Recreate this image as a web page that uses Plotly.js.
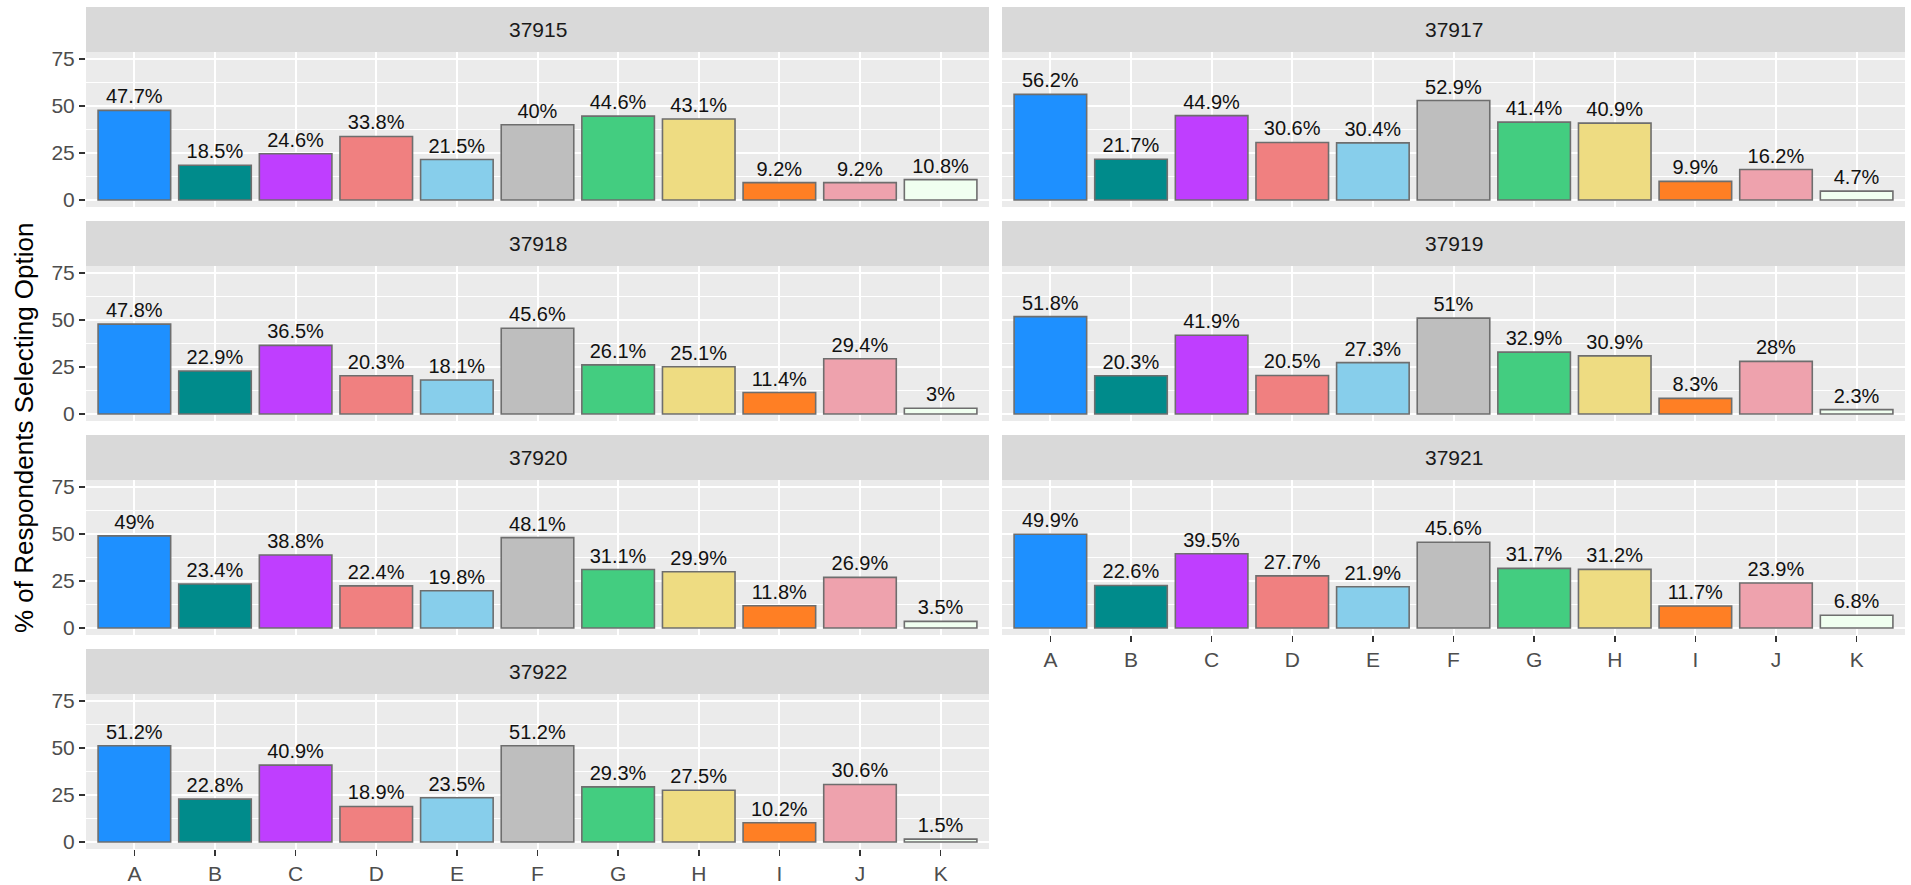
<!DOCTYPE html>
<html>
<head>
<meta charset="utf-8">
<script src="https://cdn.plot.ly/plotly-3.0.1.min.js"></script>
<style>html,body{margin:0;padding:0;background:#fff;}#chart{width:1911px;height:885px;}</style>
</head>
<body>
<div id="chart"></div>
<script>
// ---- data ----
const categories = ['A','B','C','D','E','F','G','H','I','J','K'];
const facets = ['37915','37917','37918','37919','37920','37921','37922'];
const v37915 = [47.7, 18.5, 24.6, 33.8, 21.5, 40, 44.6, 43.1, 9.2, 9.2, 10.8];
const v37917 = [56.2, 21.7, 44.9, 30.6, 30.4, 52.9, 41.4, 40.9, 9.9, 16.2, 4.7];
const v37918 = [47.8, 22.9, 36.5, 20.3, 18.1, 45.6, 26.1, 25.1, 11.4, 29.4, 3];
const v37919 = [51.8, 20.3, 41.9, 20.5, 27.3, 51, 32.9, 30.9, 8.3, 28, 2.3];
const v37920 = [49, 23.4, 38.8, 22.4, 19.8, 48.1, 31.1, 29.9, 11.8, 26.9, 3.5];
const v37921 = [49.9, 22.6, 39.5, 27.7, 21.9, 45.6, 31.7, 31.2, 11.7, 23.9, 6.8];
const v37922 = [51.2, 22.8, 40.9, 18.9, 23.5, 51.2, 29.3, 27.5, 10.2, 30.6, 1.5];
const yTicks = [0, 25, 50, 75];
const yTitle = '% of Respondents Selecting Option';

// ---- styles ----
const barColors = ['#1E90FF','#008B8B','#BF3EFF','#F08080','#87CEEB','#BEBEBE','#43CD80','#EEDC82','#FF7F24','#EEA2AD','#F0FFF0'];
const seriesValues = [v37915, v37917, v37918, v37919, v37920, v37921, v37922];

const W = 1911, H = 885;
const font = 'Liberation Sans, Arial, sans-serif';
const colX = [[86, 989], [1002, 1905]];
const rowPeriod = 214, stripTop0 = 7, stripH = 45, plotH = 155;

const traces = [];
const layout = {
  width: W, height: H,
  margin: {l: 0, r: 0, t: 0, b: 0, autoexpand: false},
  paper_bgcolor: '#ffffff',
  plot_bgcolor: '#EBEBEB',
  showlegend: false,
  shapes: [],
  annotations: [],
  font: {family: font}
};

const lastInCol = [6, 5];

seriesValues.forEach((vals, i) => {
  const col = i % 2, row = Math.floor(i / 2);
  const n = i + 1;
  const xa = 'x' + (n === 1 ? '' : n), ya = 'y' + (n === 1 ? '' : n);
  const stripTop = stripTop0 + row * rowPeriod;
  const plotTop = stripTop + stripH;
  const plotBot = plotTop + plotH;
  traces.push({
    type: 'bar',
    x: categories,
    y: vals,
    xaxis: xa, yaxis: ya,
    width: 0.9,
    marker: {color: barColors, line: {color: '#6e6e6e', width: 1.6}},
    text: vals.map(v => v + '%'),
    textposition: 'outside',
    constraintext: 'none',
    cliponaxis: false,
    textfont: {family: font, size: 20, color: '#111111'},
    hoverinfo: 'x+y'
  });
  const showX = (i === lastInCol[col]);
  layout['xaxis' + (n === 1 ? '' : n)] = {
    domain: [colX[col][0] / W, colX[col][1] / W],
    anchor: ya,
    type: 'category',
    categoryorder: 'array',
    categoryarray: categories,
    range: [-0.6, categories.length - 0.4],
    showgrid: true, gridcolor: '#ffffff', gridwidth: 2,
    zeroline: false, showline: false,
    ticks: showX ? 'outside' : '',
    ticklen: 6, tickwidth: 1.5, tickcolor: '#333333',
    showticklabels: showX,
    tickfont: {family: font, size: 21, color: '#4D4D4D'},
    fixedrange: true
  };
  layout['yaxis' + (n === 1 ? '' : n)] = {
    domain: [1 - plotBot / H, 1 - plotTop / H],
    anchor: xa,
    range: [-3.75, 78.75],
    tickvals: yTicks,
    ticktext: yTicks.map(String),
    showgrid: true, gridcolor: '#ffffff', gridwidth: 2,
    minor: {tickvals: [12.5, 37.5, 62.5], showgrid: true, gridcolor: '#ffffff', gridwidth: 1, ticks: ''},
    zeroline: false, showline: false,
    ticks: col === 0 ? 'outside' : '',
    ticklen: 6, tickwidth: 1.5, tickcolor: '#333333',
    showticklabels: col === 0,
    tickfont: {family: font, size: 21, color: '#4D4D4D'},
    fixedrange: true
  };
  layout.shapes.push({
    type: 'rect', xref: 'paper', yref: 'paper',
    x0: colX[col][0] / W, x1: colX[col][1] / W,
    y0: 1 - (stripTop + stripH) / H, y1: 1 - stripTop / H,
    fillcolor: '#D9D9D9', line: {width: 0}, layer: 'below'
  });
  layout.annotations.push({
    xref: 'paper', yref: 'paper',
    x: (colX[col][0] + colX[col][1]) / 2 / W,
    y: 1 - (stripTop + stripH / 2) / H,
    text: facets[i], showarrow: false,
    xanchor: 'center', yanchor: 'middle',
    font: {family: font, size: 21, color: '#1A1A1A'}
  });
});

layout.annotations.push({
  xref: 'paper', yref: 'paper',
  x: 24 / W, y: 1 - 428 / H,
  text: yTitle, showarrow: false, textangle: -90,
  xanchor: 'center', yanchor: 'middle',
  font: {family: font, size: 26, color: '#000000'}
});

Plotly.newPlot('chart', traces, layout, {staticPlot: true, displayModeBar: false});
</script>
</body>
</html>
